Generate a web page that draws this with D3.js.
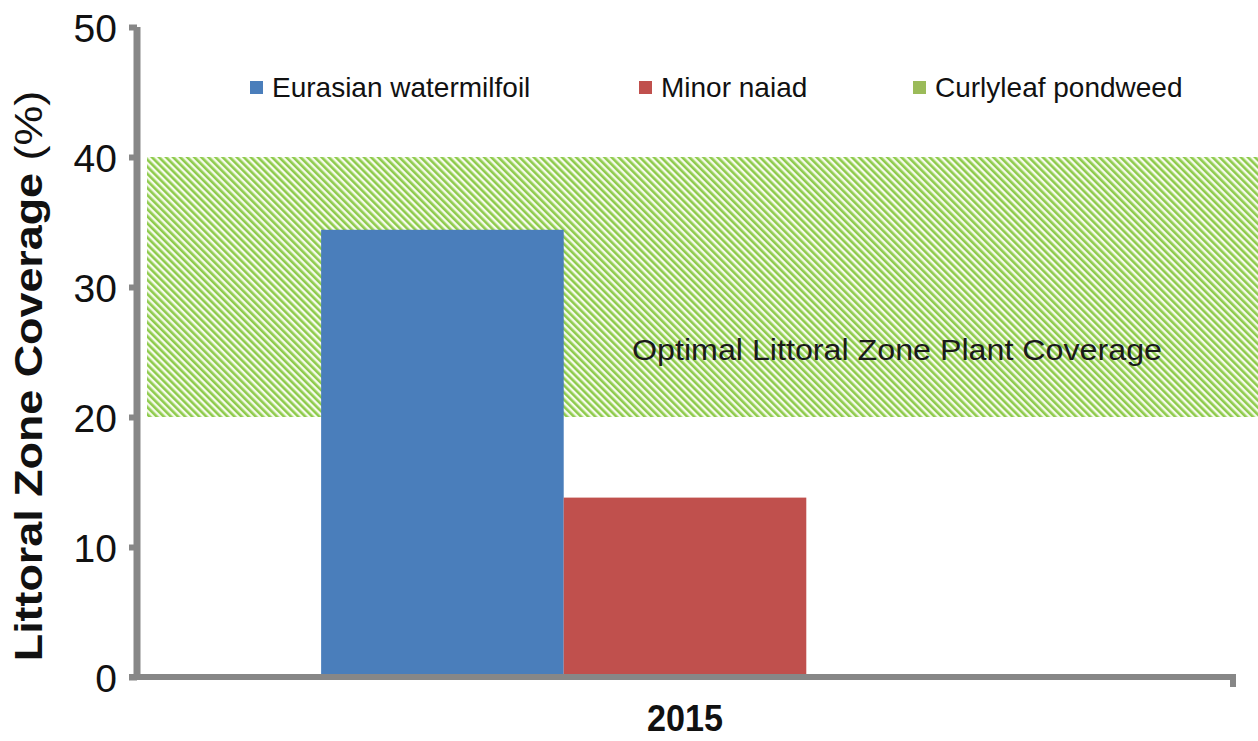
<!DOCTYPE html>
<html><head><meta charset="utf-8">
<script src="https://cdn.jsdelivr.net/npm/d3@7"></script>
<style>body{margin:0;background:#fff}svg{display:block}text{font-family:"Liberation Sans",Arial,sans-serif}</style>
</head><body>
<svg id="c" width="1258" height="741"></svg>
<script>
const categories = ["2015"];
const seriesNames = ["Eurasian watermilfoil", "Minor naiad", "Curlyleaf pondweed"];
const seriesColors = ["#4a7ebb", "#c0504d", "#9bbb59"];
const values2015 = [34.4, 13.8, 0];
const optimalRange = [20, 40];
const yTicks = [0, 10, 20, 30, 40, 50];

const svg = d3.select("#c");
const x0 = d3.scaleBand().domain(categories).range([137, 1233]).paddingOuter(0.253).paddingInner(0);
const x1 = d3.scaleBand().domain(seriesNames).range([0, x0.bandwidth()]).padding(0);
const y = d3.scaleLinear().domain([0, 50]).range([677, 27]);

// hatch pattern
const defs = svg.append("defs");
const pat = defs.append("pattern").attr("id", "hatch").attr("patternUnits", "userSpaceOnUse")
  .attr("width", 5).attr("height", 5).attr("patternTransform", "rotate(-45)");
pat.append("rect").attr("width", 5).attr("height", 5).attr("fill", "#f6fbec");
pat.append("rect").attr("x", 0).attr("width", 2.6).attr("height", 5).attr("fill", "#8ecb4c");

svg.append("rect").attr("x", 147).attr("width", 1258 - 147)
  .attr("y", y(optimalRange[1])).attr("height", y(optimalRange[0]) - y(optimalRange[1]))
  .attr("fill", "url(#hatch)");

svg.append("text").attr("x", 632).attr("y", 360)
  .attr("font-size", 29).attr("fill", "#1a1a1a").attr("textLength", 530).attr("lengthAdjust", "spacingAndGlyphs")
  .text("Optimal Littoral Zone Plant Coverage");

// bars
const g = svg.append("g");
categories.forEach(cat => {
  g.selectAll(null).data(seriesNames).enter().append("rect")
    .attr("x", (d) => x0(cat) + x1(d))
    .attr("width", x1.bandwidth())
    .attr("y", (d, i) => y(values2015[i]))
    .attr("height", (d, i) => y(0) - y(values2015[i]))
    .attr("fill", (d, i) => seriesColors[i]);
});

// axes
const axisColor = "#878787";
const yAxis = svg.append("g").attr("transform", "translate(137,0)")
  .call(d3.axisLeft(y).tickValues(yTicks).tickSize(8).tickPadding(12));
yAxis.select(".domain").attr("stroke", axisColor).attr("stroke-width", 7).attr("d", `M0,${y(50)}V${y(0)}`);
yAxis.selectAll(".tick line").attr("stroke", axisColor).attr("stroke-width", 6);
yAxis.selectAll(".tick text").attr("font-size", 39).attr("fill", "#111").attr("font-family", "Liberation Sans, Arial, sans-serif").attr("dy", "0.36em");

const xAxis = svg.append("g").attr("transform", `translate(0,${y(0)})`)
  .call(d3.axisBottom(x0).tickSize(0).tickPadding(28));
xAxis.select(".domain").attr("stroke", axisColor).attr("stroke-width", 6).attr("d", `M129,0H1233`);
xAxis.append("line").attr("x1", 1233).attr("x2", 1233).attr("y1", -3).attr("y2", 10)
  .attr("stroke", axisColor).attr("stroke-width", 6);
xAxis.selectAll(".tick text").attr("font-size", 36).attr("font-weight", "bold").attr("fill", "#111")
  .attr("font-family", "Liberation Sans, Arial, sans-serif")
  .attr("textLength", 76).attr("lengthAdjust", "spacingAndGlyphs");

// y label
const yl = svg.append("text").attr("transform", `translate(42,376) rotate(-90) scale(1.15,1)`).attr("text-anchor", "middle")
  .attr("font-size", 39).attr("fill", "#111");
yl.append("tspan").attr("font-weight", "bold").text("Littoral Zone Coverage ");
yl.append("tspan").text("(%)");

// legend
const legendX = [250, 639, 913];
const lg = svg.append("g");
seriesNames.forEach((s, i) => {
  lg.append("rect").attr("x", legendX[i]).attr("y", 81).attr("width", 13).attr("height", 13).attr("fill", seriesColors[i]);
  lg.append("text").attr("x", legendX[i] + 22).attr("y", 97).attr("font-size", 28).attr("fill", "#111").text(s);
});
</script>
</body></html>
